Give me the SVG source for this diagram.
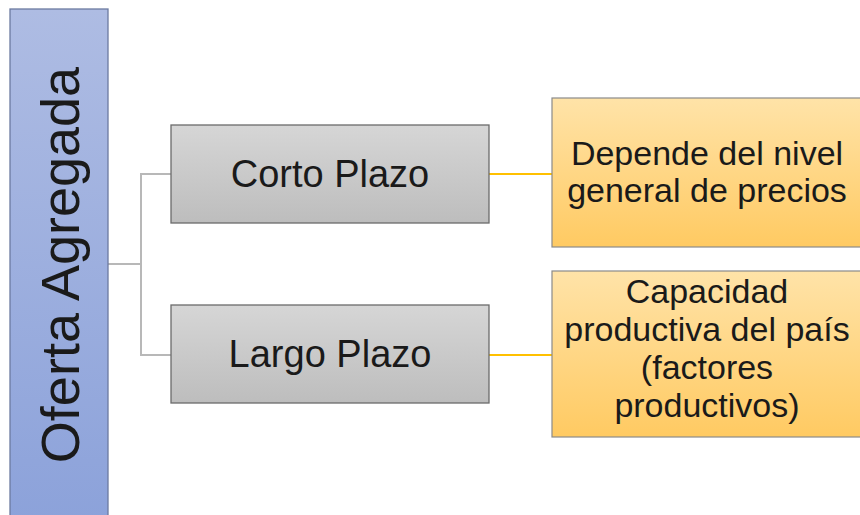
<svg xmlns="http://www.w3.org/2000/svg" width="860" height="515" viewBox="0 0 860 515">
<defs>
<linearGradient id="gBlue" x1="0" y1="0" x2="0" y2="1"><stop offset="0" stop-color="#AEBCE3"/><stop offset="1" stop-color="#8CA2DA"/></linearGradient>
<linearGradient id="gGray" x1="0" y1="0" x2="0" y2="1"><stop offset="0" stop-color="#D6D6D6"/><stop offset="1" stop-color="#BDBDBD"/></linearGradient>
<linearGradient id="gOrange" x1="0" y1="0" x2="0" y2="1"><stop offset="0" stop-color="#FFE3A8"/><stop offset="1" stop-color="#FFCA62"/></linearGradient>
</defs>
<style>
.t{font-family:"Liberation Sans","Open Sans",Arial,sans-serif;fill:#1a1a1a;text-anchor:middle}
.gray{fill:url(#gGray);stroke:#6b6b6b;stroke-width:1.3}
.orange{fill:url(#gOrange);stroke:#8a8a8a;stroke-width:1.2}
.cg{fill:none;stroke:#b8b8b8;stroke-width:2}
.co{fill:none;stroke:#FFC000;stroke-width:2}
</style>
<rect width="860" height="515" fill="#ffffff"/>
<g id="connectors">
<polyline class="cg" points="108,264 141,264"/>
<polyline class="cg" points="171,174 141,174 141,355 171,355"/>
<line class="co" x1="489" y1="174" x2="552" y2="174"/>
<line class="co" x1="489" y1="355" x2="552" y2="355"/>
</g>
<g id="oferta">
<rect x="10" y="9" width="98" height="512" fill="url(#gBlue)" stroke="#6c7aa0" stroke-width="1.3"/>
<text class="t" font-size="54" transform="translate(79,265) rotate(-90)">Oferta Agregada</text>
</g>
<g id="corto">
<rect class="gray" x="171" y="125" width="318" height="98"/>
<text class="t" font-size="38" x="330" y="187">Corto Plazo</text>
</g>
<g id="largo">
<rect class="gray" x="171" y="305" width="318" height="98"/>
<text class="t" font-size="38" x="330" y="367">Largo Plazo</text>
</g>
<g id="depende">
<rect class="orange" x="552" y="98" width="310" height="149"/>
<text class="t" font-size="34" x="707" y="165">Depende del nivel</text>
<text class="t" font-size="34" x="707" y="202">general de precios</text>
</g>
<g id="capacidad">
<rect class="orange" x="552" y="271" width="310" height="166"/>
<text class="t" font-size="34" x="707" y="303">Capacidad</text>
<text class="t" font-size="34" x="707" y="341">productiva del país</text>
<text class="t" font-size="34" x="707" y="379">(factores</text>
<text class="t" font-size="34" x="707" y="417">productivos)</text>
</g>
</svg>
